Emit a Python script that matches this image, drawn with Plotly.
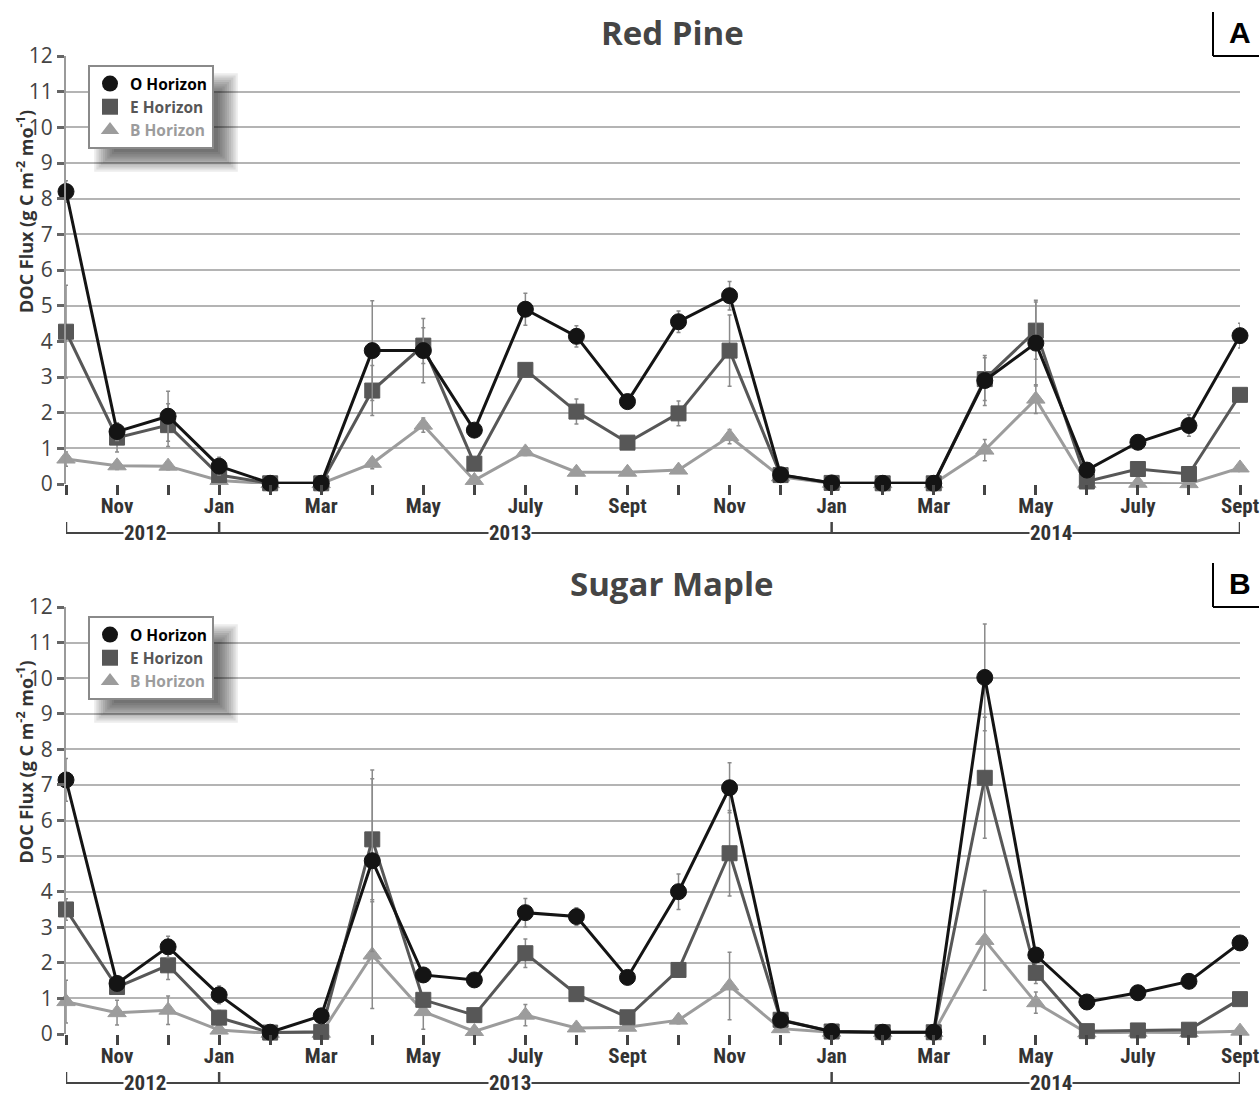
import plotly.graph_objects as go

W, H = 1260, 1094

months = ["Oct 2012", "Nov 2012", "Dec 2012", "Jan 2013", "Feb 2013", "Mar 2013", "Apr 2013",
          "May 2013", "Jun 2013", "Jul 2013", "Aug 2013", "Sep 2013", "Oct 2013", "Nov 2013",
          "Dec 2013", "Jan 2014", "Feb 2014", "Mar 2014", "Apr 2014", "May 2014", "Jun 2014",
          "Jul 2014", "Aug 2014", "Sep 2014"]
tick_labels = ["", "Nov", "", "Jan", "", "Mar", "", "May", "", "July", "", "Sept",
               "", "Nov", "", "Jan", "", "Mar", "", "May", "", "July", "", "Sept"]

# Red Pine (panel A)
rp_O = [8.2, 1.47, 1.9, 0.5, 0.02, 0.02, 3.74, 3.74, 1.51, 4.9, 4.14, 2.31, 4.55, 5.28,
        0.26, 0.03, 0.02, 0.02, 2.9, 3.95, 0.39, 1.17, 1.64, 4.16]
rp_O_err = [0.3, 0.25, 0.7, 0.25, 0.0, 0.0, 1.4, 0.9, 0.1, 0.45, 0.3, 0.2, 0.3, 0.4,
            0.05, 0.05, 0.05, 0.05, 0.7, 1.2, 0.05, 0.1, 0.3, 0.35]
rp_E = [4.27, 1.3, 1.65, 0.25, 0.02, 0.02, 2.62, 3.88, 0.57, 3.2, 2.03, 1.16, 1.98, 3.74,
        0.25, 0.03, 0.02, 0.02, 2.94, 4.3, 0.07, 0.42, 0.28, 2.5]
rp_E_err = [1.3, 0.4, 0.6, 0.2, 0.0, 0.0, 0.7, 0.5, 0.1, 0.15, 0.35, 0.1, 0.35, 1.0,
            0.05, 0.0, 0.0, 0.0, 0.6, 0.8, 0.05, 0.05, 0.05, 0.1]
rp_B = [0.7, 0.51, 0.5, 0.1, 0.01, 0.01, 0.58, 1.65, 0.1, 0.9, 0.33, 0.33, 0.39, 1.33,
        0.2, 0.02, 0.01, 0.01, 0.95, 2.38, 0.02, 0.02, 0.01, 0.45]
rp_B_err = [0.2, 0.1, 0.1, 0.05, 0.0, 0.0, 0.15, 0.2, 0.05, 0.1, 0.05, 0.05, 0.05, 0.2,
            0.05, 0.0, 0.0, 0.0, 0.3, 0.4, 0.0, 0.0, 0.0, 0.1]

# Sugar Maple (panel B)
sm_O = [7.14, 1.42, 2.45, 1.1, 0.05, 0.51, 4.87, 1.66, 1.52, 3.41, 3.3, 1.59, 4.0, 6.92,
        0.39, 0.07, 0.05, 0.05, 10.02, 2.22, 0.9, 1.16, 1.48, 2.56]
sm_O_err = [0.6, 0.2, 0.3, 0.25, 0.05, 0.1, 2.55, 0.2, 0.1, 0.4, 0.25, 0.1, 0.5, 0.7,
            0.1, 0.1, 0.1, 0.05, 1.5, 0.2, 0.05, 0.1, 0.1, 0.1]
sm_E = [3.5, 1.32, 1.93, 0.46, 0.04, 0.06, 5.47, 0.96, 0.53, 2.27, 1.12, 0.47, 1.8, 5.08,
        0.4, 0.07, 0.05, 0.05, 7.2, 1.72, 0.08, 0.1, 0.12, 0.98]
sm_E_err = [0.3, 0.2, 0.4, 0.2, 0.0, 0.05, 1.7, 0.15, 0.1, 0.4, 0.15, 0.1, 0.2, 1.2,
            0.1, 0.05, 0.05, 0.0, 1.7, 0.3, 0.05, 0.05, 0.05, 0.1]
sm_B = [0.91, 0.6, 0.67, 0.11, 0.02, 0.02, 2.22, 0.63, 0.07, 0.53, 0.17, 0.19, 0.39, 1.35,
        0.15, 0.05, 0.04, 0.04, 2.63, 0.88, 0.03, 0.05, 0.04, 0.08]
sm_B_err = [0.6, 0.35, 0.4, 0.1, 0.0, 0.0, 1.5, 0.5, 0.05, 0.3, 0.05, 0.05, 0.1, 0.95,
            0.05, 0.0, 0.0, 0.0, 1.4, 0.3, 0.0, 0.0, 0.0, 0.05]

titles = ["Red Pine", "Sugar Maple"]
panel_letters = ["A", "B"]
series_names = ["O Horizon", "E Horizon", "B Horizon"]
year_labels = ["2012", "2013", "2014"]

x = list(range(len(months)))

COL = {"O": "#141414", "E": "#575757", "B": "#9c9c9c"}
SYM = {"O": "circle", "E": "square", "B": "triangle-up"}
SIZE = {"O": 16, "E": 15, "B": 16}

fig = go.Figure()

def px_x(p):
    return p / W

def px_y(p):
    return 1 - p / H

# pixel geometry per panel: (y of 0, y of 12)
panels = [(484, 56), (1034, 607)]
x_left, x_right = 66, 1240

datasets = [
    {"O": (rp_O, rp_O_err), "E": (rp_E, rp_E_err), "B": (rp_B, rp_B_err)},
    {"O": (sm_O, sm_O_err), "E": (sm_E, sm_E_err), "B": (sm_B, sm_B_err)},
]

shapes = []
annotations = []
NARROW = "Liberation Sans Narrow, Roboto Condensed, Open Sans"

for pi, (y0px, y12px) in enumerate(panels):
    xa = "x" if pi == 0 else "x2"
    ya = "y" if pi == 0 else "y2"
    lg = "legend" if pi == 0 else "legend2"
    for key in ["B", "E", "O"]:
        vals, errs = datasets[pi][key]
        fig.add_trace(go.Scatter(
            x=x, y=vals, xaxis=xa, yaxis=ya, mode="lines+markers",
            line=dict(color=COL[key], width=3),
            marker=dict(symbol=SYM[key], size=SIZE[key], color=COL[key],
                        line=dict(color=COL[key], width=1)),
            error_y=dict(type="data", array=errs, visible=True, color="#8a8a8a",
                         thickness=1.5, width=2),
            cliponaxis=False, showlegend=False, hoverinfo="skip"))
    for key, name in zip(["O", "E", "B"], series_names):
        fig.add_trace(go.Scatter(
            x=[None], y=[None], xaxis=xa, yaxis=ya, mode="markers",
            marker=dict(symbol=SYM[key], size=SIZE[key] + 1, color=COL[key]),
            name=f"<b><span style='color:{COL[key] if key != 'O' else '#000'}'>{name}</span></b>",
            legend=lg, showlegend=True))

    # Legend shadow (layered soft rectangles to mimic a blur)
    lx0, ly0 = 88, y12px + 9
    lx1, ly1 = 214, y12px + 90
    cx0, cy0, cx1, cy1 = lx0 + 16, ly0 + 18, lx1 + 8, ly1 + 10
    for k in range(10):
        g = k * 2.2
        shapes.append(dict(type="rect", xref="paper", yref="paper",
                           x0=px_x(cx0 + 10 - g), x1=px_x(cx1 - 4 + g),
                           y0=px_y(cy1 - 4 + g), y1=px_y(cy0 + 10 - g),
                           fillcolor="rgba(0,0,0,0.075)", line=dict(width=0), layer="above"))

    # Title
    tpy = y12px - 24
    annotations.append(dict(text=f"<b>{titles[pi]}</b>", x=px_x(672), y=px_y(tpy),
                            xref="paper", yref="paper", showarrow=False,
                            font=dict(size=33, color="#454545", family="Open Sans"),
                            xanchor="center", yanchor="middle"))
    # Panel letter and L frame
    annotations.append(dict(text=f"<b>{panel_letters[pi]}</b>", x=px_x(1240), y=px_y(tpy),
                            xref="paper", yref="paper", showarrow=False,
                            font=dict(size=30, color="#000", family="Liberation Sans"),
                            xanchor="center", yanchor="middle"))
    shapes.append(dict(type="line", xref="paper", yref="paper",
                       x0=px_x(1213), x1=px_x(1213), y0=px_y(y12px - 44), y1=px_y(y12px),
                       line=dict(color="#000", width=2)))
    shapes.append(dict(type="line", xref="paper", yref="paper",
                       x0=px_x(1213), x1=px_x(1259), y0=px_y(y12px), y1=px_y(y12px),
                       line=dict(color="#000", width=2)))
    # Y title
    annotations.append(dict(text="<b>DOC Flux (g C m<sup>-2</sup> mo<sup>-1</sup>)</b>",
                            x=px_x(25), y=px_y((y0px + y12px) / 2 - 58),
                            xref="paper", yref="paper", showarrow=False, textangle=-90,
                            font=dict(size=18, color="#333", family="Open Sans"),
                            xanchor="center", yanchor="middle"))
    # Year brackets
    by = y0px + 49
    bounds = [0, 3, 15, 23]
    xr = xa
    for bx in bounds:
        shapes.append(dict(type="line", xref=xr, yref="paper", x0=bx, x1=bx,
                           y0=px_y(by), y1=px_y(by - 11), line=dict(color="#444", width=2.5)))
    shapes.append(dict(type="line", xref=xr, yref="paper", x0=0, x1=23,
                       y0=px_y(by), y1=px_y(by), line=dict(color="#444", width=2)))
    for lbl, cx in zip(year_labels, [1.55, 8.7, 19.3]):
        annotations.append(dict(text=f"<b>{lbl}</b>", x=cx, xref=xr, y=px_y(by), yref="paper",
                                showarrow=False, bgcolor="#fff",
                                font=dict(size=21, color="#333", family=NARROW),
                                xanchor="center", yanchor="middle", borderpad=0))

yaxis_common = dict(range=[0, 12], tickvals=list(range(13)), showgrid=True,
                    gridcolor="#b4b4b4", gridwidth=2, zeroline=False,
                    showline=True, linecolor="#9a9a9a", linewidth=2,
                    ticks="outside", ticklen=7, tickwidth=3, tickcolor="#666",
                    tickfont=dict(size=21, color="#444", family="Open Sans"),
                    automargin=False)
xaxis_common = dict(range=[0, 23], tickvals=x, ticktext=[f"<b>{t}</b>" if t else "" for t in tick_labels],
                    showgrid=False, zeroline=False, showline=False,
                    ticks="outside", ticklen=10, tickwidth=3, tickcolor="#444",
                    tickfont=dict(size=21, color="#333", family=NARROW),
                    ticklabelstandoff=-7,
                    domain=[px_x(x_left), px_x(x_right)], automargin=False)

fig.update_layout(
    width=W, height=H, margin=dict(l=0, r=0, t=0, b=0, autoexpand=False),
    paper_bgcolor="#fff", plot_bgcolor="#fff",
    xaxis=dict(**xaxis_common, anchor="y"),
    yaxis=dict(**yaxis_common, anchor="x", domain=[px_y(panels[0][0]), px_y(panels[0][1])]),
    xaxis2=dict(**xaxis_common, anchor="y2"),
    yaxis2=dict(**yaxis_common, anchor="x2", domain=[px_y(panels[1][0]), px_y(panels[1][1])]),
    legend=dict(x=px_x(88), y=px_y(panels[0][1] + 9), xanchor="left", yanchor="top",
                bgcolor="#fff", bordercolor="#8a8a8a", borderwidth=2,
                font=dict(size=15.5, family="Open Sans", color="#000"), tracegroupgap=0),
    legend2=dict(x=px_x(88), y=px_y(panels[1][1] + 9), xanchor="left", yanchor="top",
                 bgcolor="#fff", bordercolor="#8a8a8a", borderwidth=2,
                 font=dict(size=15.5, family="Open Sans", color="#000"), tracegroupgap=0),
    shapes=shapes, annotations=annotations, showlegend=True,
)

fig.write_html("out.html", config={"displayModeBar": False},
               post_script="document.body.style.margin='0';document.body.style.overflow='hidden';")
